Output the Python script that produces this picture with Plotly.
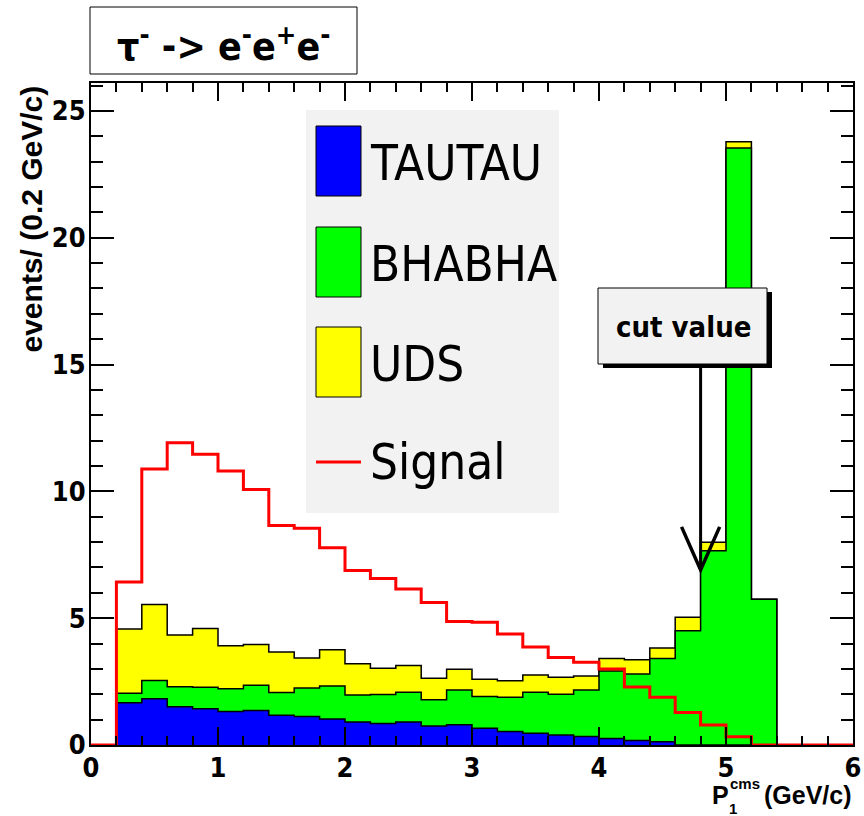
import plotly.graph_objects as go

# Histogram binning: 30 bins of 0.2 GeV/c from 0 to 6
bin_edges = [round(0.2 * i, 1) for i in range(31)]

# Background samples (events per bin)
tautau = [0, 1.67, 1.82, 1.51, 1.43, 1.32, 1.36, 1.17, 1.12, 1.03,
          0.91, 0.85, 0.91, 0.75, 0.80, 0.66, 0.53, 0.46, 0.39, 0.34,
          0.26, 0.18, 0.13, 0, 0, 0, 0, 0, 0, 0]
bhabha = [0, 0.37, 0.72, 0.79, 0.85, 0.90, 1.00, 0.90, 1.13, 1.30,
          1.06, 1.14, 1.17, 1.03, 1.37, 1.25, 1.35, 1.62, 1.61, 1.83,
          2.66, 2.62, 3.28, 4.50, 7.66, 23.54, 5.75, 0, 0, 0]
uds = [0, 2.53, 3.00, 2.04, 2.31, 1.69, 1.60, 1.60, 1.18, 1.43,
       1.23, 1.04, 1.05, 0.85, 0.82, 0.68, 0.65, 0.68, 0.67, 0.55,
       0.49, 0.56, 0.41, 0.54, 0.33, 0.24, 0, 0, 0, 0]
# Signal MC (tau- -> e- e+ e-)
signal = [0, 6.43, 10.88, 11.92, 11.46, 10.80, 10.07, 8.65, 8.55, 7.78,
          6.88, 6.56, 6.15, 5.62, 4.87, 4.84, 4.38, 3.86, 3.45, 3.26,
          3.00, 2.29, 1.88, 1.28, 0.79, 0.33, 0, 0, 0, 0]

legend_labels = ["TAUTAU", "BHABHA", "UDS", "Signal"]
colors = {"TAUTAU": "#0000ff", "BHABHA": "#00ff00", "UDS": "#ffff00", "Signal": "#ff0000"}

CUT_VALUE = 4.8
ARROW_TOP = 15.0
ARROW_TIP = 6.9

x_ticks = [0, 1, 2, 3, 4, 5, 6]
y_ticks = [0, 5, 10, 15, 20, 25]
Y_MAX = 26.1

# Plot frame in pixels (864 x 816 canvas)
FX0, FX1, FY0, FY1 = 91, 853, 745, 83
W, H = 864, 816


def px(x):
    return (x - FX0) / (FX1 - FX0)


def py(y):
    return (FY0 - y) / (FY0 - FY1)


def step(vals):
    return vals + [vals[-1]]


# cumulative stack: blue at bottom, green, then yellow on top
cum_blue = list(tautau)
cum_green = [a + b for a, b in zip(tautau, bhabha)]
cum_all = [a + b for a, b in zip(cum_green, uds)]

NARROW = "DejaVu Sans Condensed, Liberation Sans, sans-serif"
SANS = "Liberation Sans, Arial, sans-serif"

fig = go.Figure()
for vals, name in [(cum_all, "UDS"), (cum_green, "BHABHA"), (cum_blue, "TAUTAU")]:
    fig.add_trace(go.Scatter(
        x=bin_edges, y=step(vals), mode="lines", line_shape="hv",
        line=dict(color="black", width=1.5),
        fill="tozeroy", fillcolor=colors[name], name=name, showlegend=False,
    ))
fig.add_trace(go.Scatter(
    x=bin_edges, y=step(signal), mode="lines", line_shape="hv",
    line=dict(color=colors["Signal"], width=3), name="Signal", showlegend=False,
))

shapes = []
annotations = []

# cut value arrow
shapes.append(dict(type="line", xref="x", yref="y", x0=CUT_VALUE, x1=CUT_VALUE,
                   y0=ARROW_TOP, y1=ARROW_TIP, line=dict(color="black", width=3), layer="above"))
shapes.append(dict(type="path", xref="x", yref="y",
                   path=f"M {CUT_VALUE - 0.15},{ARROW_TIP + 1.7} L {CUT_VALUE},{ARROW_TIP} L {CUT_VALUE + 0.15},{ARROW_TIP + 1.7}",
                   line=dict(color="black", width=3.5), layer="above"))

# cut value label box with drop shadow
shapes.append(dict(type="rect", xref="paper", yref="paper",
                   x0=px(603), x1=px(772), y0=py(292), y1=py(368),
                   fillcolor="black", line=dict(width=0), layer="above"))
shapes.append(dict(type="rect", xref="paper", yref="paper",
                   x0=px(598), x1=px(767), y0=py(288), y1=py(364),
                   fillcolor="#f2f2f2", line=dict(color="black", width=1), layer="above"))
annotations.append(dict(xref="paper", yref="paper", x=px(683), y=py(327),
                        text="<b>cut value</b>", showarrow=False,
                        font=dict(family=NARROW, size=29, color="black"),
                        xanchor="center", yanchor="middle"))

# legend panel
shapes.append(dict(type="rect", xref="paper", yref="paper",
                   x0=px(306), x1=px(559), y0=py(110), y1=py(513),
                   fillcolor="#f2f2f2", line=dict(width=0), layer="above"))
box_rows = [(126, 196), (227, 297), (327, 397)]
for (top, bot), name in zip(box_rows, legend_labels[:3]):
    shapes.append(dict(type="rect", xref="paper", yref="paper",
                       x0=px(316), x1=px(361), y0=py(top), y1=py(bot),
                       fillcolor=colors[name], line=dict(color="black", width=1), layer="above"))
shapes.append(dict(type="line", xref="paper", yref="paper",
                   x0=px(316), x1=px(361), y0=py(462), y1=py(462),
                   line=dict(color=colors["Signal"], width=3), layer="above"))
for yc, name in zip([163, 264, 364, 462], legend_labels):
    annotations.append(dict(xref="paper", yref="paper", x=px(368), y=py(yc),
                            text=name, showarrow=False,
                            font=dict(family=NARROW, size=49, color="black"),
                            xanchor="left", yanchor="middle"))

# title box
shapes.append(dict(type="rect", xref="paper", yref="paper",
                   x0=px(90), x1=px(357), y0=py(7), y1=py(74),
                   fillcolor="white", line=dict(color="black", width=1), layer="above"))
annotations.append(dict(xref="paper", yref="paper", x=px(223), y=py(44),
                        text="<b>τ<sup>-</sup> -> e<sup>-</sup>e<sup>+</sup>e<sup>-</sup></b>",
                        showarrow=False, font=dict(family=NARROW, size=39, color="black"),
                        xanchor="center", yanchor="middle"))

# axis titles
annotations.append(dict(xref="paper", yref="paper", x=px(31), y=py(84),
                        text="<b>events/ (0.2 GeV/c)</b>", textangle=-90, showarrow=False,
                        font=dict(family=SANS, size=30, color="black"),
                        xanchor="center", yanchor="top"))
annotations.append(dict(xref="paper", yref="paper", x=px(853), y=py(795),
                        text="<b>(GeV/c)</b>", showarrow=False, borderpad=0,
                        font=dict(family=SANS, size=25, color="black"),
                        xanchor="right", yanchor="middle"))
annotations.append(dict(xref="paper", yref="paper", x=px(711), y=py(795),
                        text="<b>P</b>", showarrow=False, borderpad=0,
                        font=dict(family=SANS, size=25, color="black"),
                        xanchor="left", yanchor="middle"))
annotations.append(dict(xref="paper", yref="paper", x=px(729), y=py(783),
                        text="<b>cms</b>", showarrow=False, borderpad=0,
                        font=dict(family=SANS, size=15, color="black"),
                        xanchor="left", yanchor="middle"))
annotations.append(dict(xref="paper", yref="paper", x=px(728), y=py(808),
                        text="<b>1</b>", showarrow=False, borderpad=0,
                        font=dict(family=SANS, size=15, color="black"),
                        xanchor="left", yanchor="middle"))

tick_font = dict(family=NARROW, size=27, color="black")

fig.update_layout(
    width=W, height=H,
    margin=dict(l=FX0, r=W - FX1, t=FY1, b=H - FY0, autoexpand=False),
    paper_bgcolor="white", plot_bgcolor="white",
    showlegend=False,
    shapes=shapes, annotations=annotations,
    xaxis=dict(range=[0, 6], tickvals=x_ticks, ticktext=[f"<b>{v}</b>" for v in x_ticks],
               ticks="inside", ticklen=18, tickwidth=2, tickcolor="black",
               minor=dict(dtick=0.2, ticks="inside", ticklen=9, tickwidth=2, tickcolor="black", showgrid=False),
               showline=True, linewidth=2, linecolor="black", mirror="allticks",
               showgrid=False, zeroline=False, tickfont=tick_font, automargin=False,
               ticklabelstandoff=-2, layer="above traces"),
    yaxis=dict(range=[0, Y_MAX], tickvals=y_ticks, ticktext=[f"<b>{v}</b>" for v in y_ticks],
               ticks="inside", ticklen=23, tickwidth=2, tickcolor="black",
               minor=dict(dtick=1, ticks="inside", ticklen=12, tickwidth=2, tickcolor="black", showgrid=False),
               showline=True, linewidth=2, linecolor="black", mirror="allticks",
               showgrid=False, zeroline=False, tickfont=tick_font, automargin=False,
               ticklabelstandoff=-2, layer="above traces"),
)

fig.write_html("out.html")
